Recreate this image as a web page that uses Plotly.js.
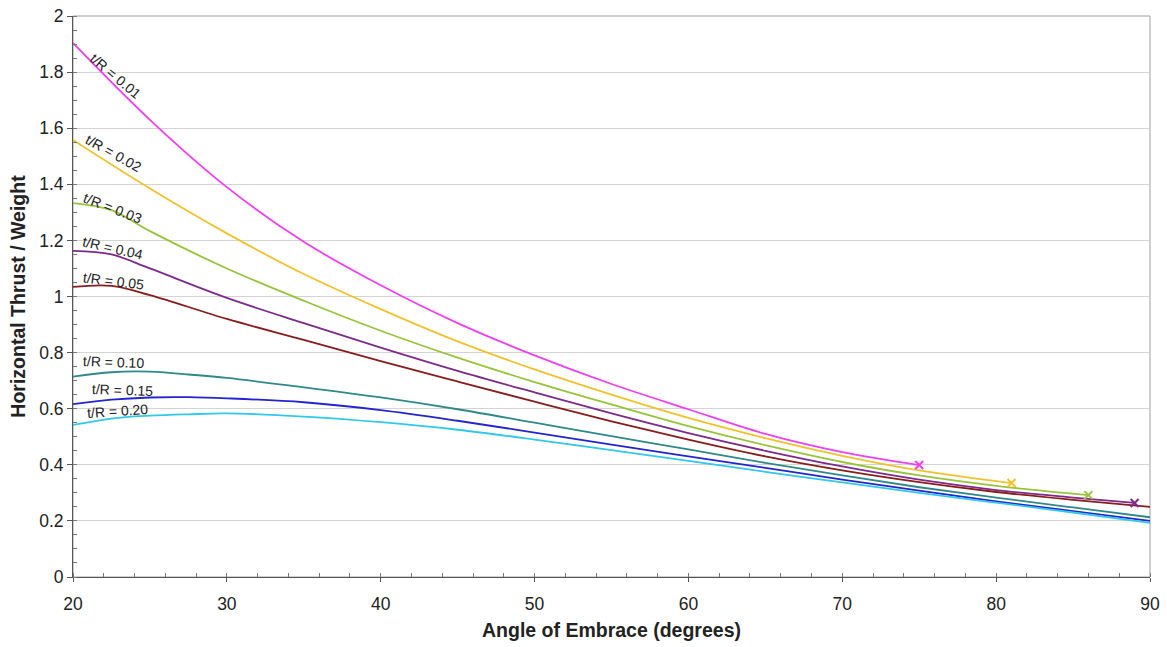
<!DOCTYPE html>
<html>
<head>
<meta charset="utf-8">
<script src="https://cdn.plot.ly/plotly-3.0.1.min.js"></script>
<style>html,body{margin:0;padding:0;background:#fff;}#chart{width:1167px;height:647px;}</style>
</head>
<body>
<div id="chart"></div>
<script>
// ---- data ----
const labels = ["t/R = 0.01","t/R = 0.02","t/R = 0.03","t/R = 0.04","t/R = 0.05","t/R = 0.10","t/R = 0.15","t/R = 0.20"];

const x001 = [20,25,30,35,40,45,50,55,60,65,70,75];
const y001 = [1.904,1.63,1.39,1.195,1.04,0.905,0.79,0.688,0.598,0.51,0.445,0.399];

const x002 = [20,25,30,35,40,45,50,55,60,65,70,75,81];
const y002 = [1.558,1.385,1.225,1.08,0.955,0.84,0.74,0.65,0.567,0.495,0.432,0.38,0.335];

const x003 = [20,22.5,25,30,35,40,45,50,55,60,65,70,75,80,86];
const y003 = [1.333,1.308,1.233,1.10,0.985,0.878,0.782,0.695,0.615,0.538,0.47,0.41,0.362,0.325,0.292];

const x004 = [20,22.5,25,30,35,40,45,50,55,60,65,70,75,80,85,89];
const y004 = [1.163,1.15,1.10,0.995,0.905,0.818,0.735,0.658,0.583,0.513,0.45,0.394,0.347,0.31,0.283,0.264];

const x005 = [20,22.5,25,30,35,40,45,50,55,60,65,70,75,80,85,90];
const y005 = [1.034,1.038,1.005,0.92,0.845,0.77,0.697,0.625,0.555,0.49,0.43,0.38,0.338,0.303,0.275,0.25];

const x010 = [20,22.5,25,27.5,30,35,40,45,50,55,60,65,70,75,80,85,90];
const y010 = [0.714,0.73,0.732,0.722,0.71,0.676,0.64,0.598,0.55,0.502,0.455,0.407,0.362,0.32,0.283,0.248,0.213];

const x015 = [20,22.5,25,27.5,30,35,40,45,50,55,60,65,70,75,80,85,90];
const y015 = [0.616,0.632,0.640,0.641,0.637,0.623,0.595,0.557,0.515,0.472,0.43,0.389,0.347,0.308,0.27,0.235,0.20];

const x020 = [20,22.5,25,27.5,30,35,40,45,50,55,60,65,70,75,80,85,90];
const y020 = [0.542,0.565,0.575,0.58,0.583,0.572,0.552,0.525,0.49,0.452,0.414,0.375,0.337,0.30,0.265,0.23,0.193];

// label anchor positions (data units) and angles
const labelX = [22.75,22.6,22.55,22.55,22.6,22.6,23.2,22.9];
const labelY = [1.786,1.512,1.314,1.172,1.056,0.765,0.668,0.593];
const labelAngle = [40,29,21,13,7,2,2,-4];

const colors = ["#ee40ee","#f2c22a","#99c43a","#7d2a8c","#8b1c1c","#2e8a8a","#2424d0","#30c8ec"];

// ---- build ----
const xs = [x001,x002,x003,x004,x005,x010,x015,x020];
const ys = [y001,y002,y003,y004,y005,y010,y015,y020];
const markedSeries = [0,1,2,3]; // curves that end with an x marker

const traces = xs.map((x,i)=>({
  type:"scatter", mode:"lines", x:x, y:ys[i], name:labels[i],
  line:{color:colors[i], width:1.8, shape:"spline", smoothing:1.0},
  hoverinfo:"x+y+name"
}));
markedSeries.forEach(i=>{
  traces.push({
    type:"scatter", mode:"markers",
    x:[xs[i][xs[i].length-1]], y:[ys[i][ys[i].length-1]],
    marker:{symbol:"x-thin", size:8, color:colors[i], line:{color:colors[i], width:2}},
    showlegend:false, hoverinfo:"skip"
  });
});

const FONT = "Liberation Sans, Arial, sans-serif";
const annotations = labels.map((t,i)=>({
  x:labelX[i], y:labelY[i], xref:"x", yref:"y", text:t, showarrow:false,
  textangle:labelAngle[i], font:{family:FONT, size:14, color:"#222"}
}));

const layout = {
  width:1167, height:647,
  margin:{l:73, r:17, t:16, b:70},
  paper_bgcolor:"#fff", plot_bgcolor:"#fff",
  showlegend:false,
  font:{family:FONT, size:17, color:"#222"},
  xaxis:{
    range:[20,90], dtick:10, tick0:20,
    showgrid:false, zeroline:false,
    showline:true, linecolor:"#555", linewidth:1,
    ticks:"outside", ticklen:4, tickcolor:"#555",
    ticklabelstandoff:7,
    minor:{dtick:2, ticks:"inside", ticklen:4, tickcolor:"#777", showgrid:false},
    tickfont:{size:17.5, color:"#222"},
    title:{text:"<b>Angle of Embrace (degrees)</b>", font:{size:19.5, color:"#222"}, standoff:10}
  },
  yaxis:{
    range:[0,2], dtick:0.2, tick0:0,
    showgrid:true, gridcolor:"#d4d4d4", gridwidth:1,
    zeroline:false,
    showline:true, linecolor:"#555", linewidth:1,
    ticks:"outside", ticklen:5, tickcolor:"#555",
    minor:{dtick:0.05, ticks:"inside", ticklen:4, tickcolor:"#777", showgrid:false},
    tickfont:{size:17.5, color:"#222"},
    title:{text:"<b>Horizontal Thrust / Weight</b>", font:{size:19.5, color:"#222"}, standoff:8}
  },
  shapes:[{type:"rect", xref:"paper", yref:"paper", x0:0, x1:1, y0:0, y1:1,
    line:{color:"#a0a0a0", width:1}, layer:"below"}],
  annotations:annotations
};

Plotly.newPlot("chart", traces, layout, {displayModeBar:false});
</script>
</body>
</html>
